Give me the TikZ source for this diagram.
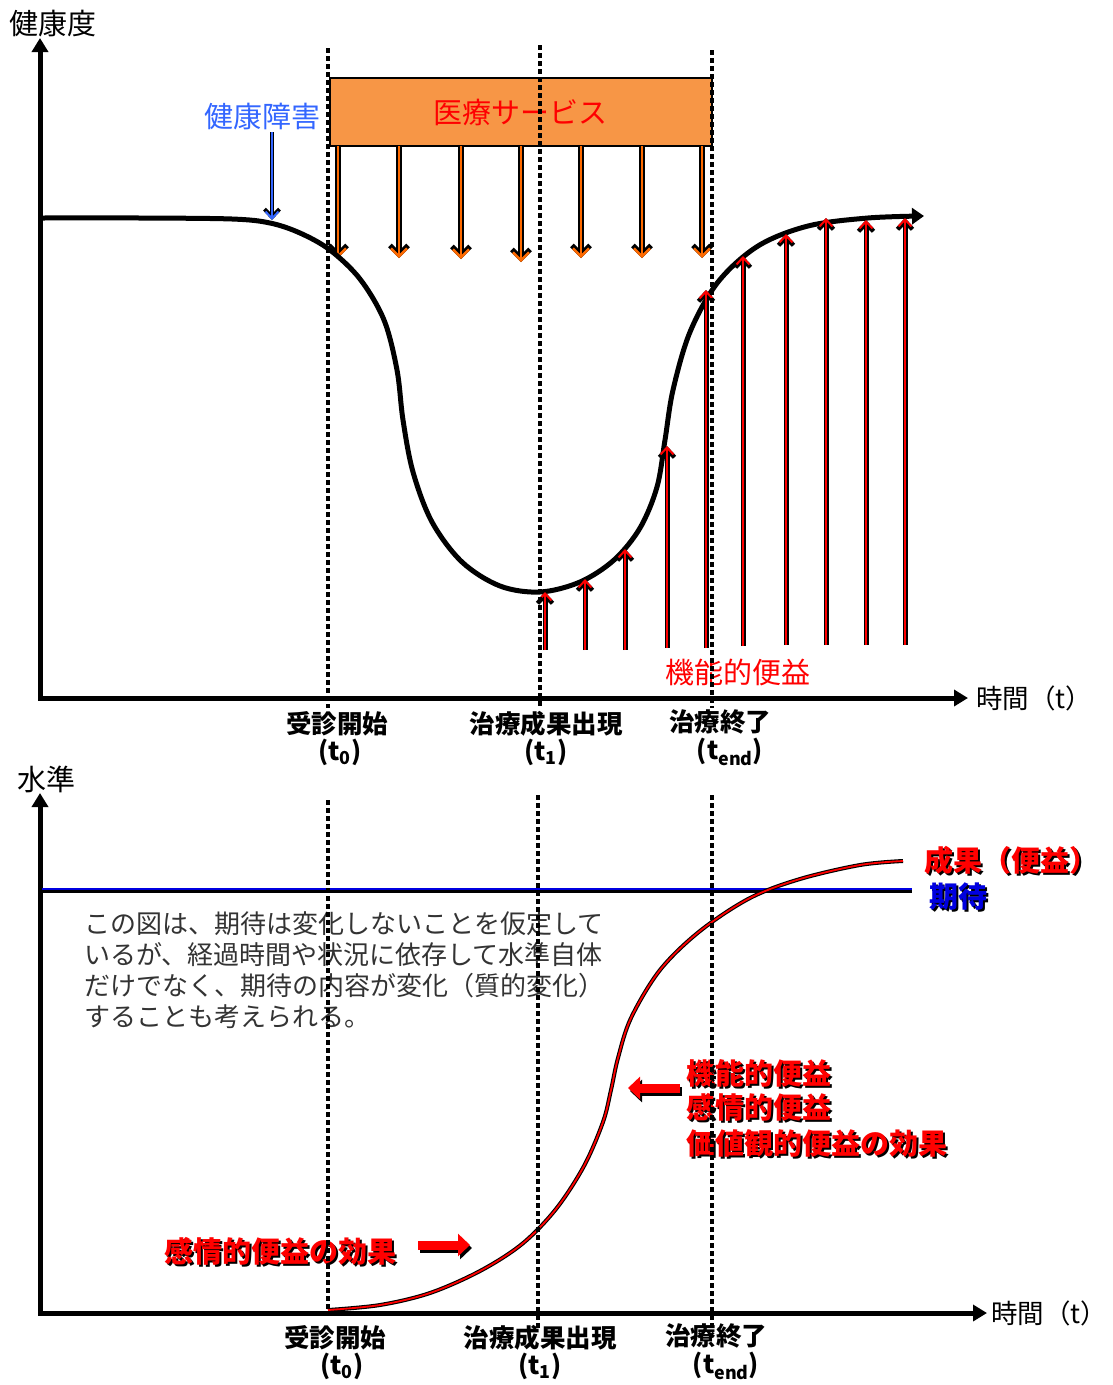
\documentclass[tikz,border=0pt]{standalone}
\usepackage{fontspec}
\setmainfont{Noto Sans CJK JP}
\usetikzlibrary{arrows.meta}

\definecolor{careorange}{HTML}{F79646}
\definecolor{arroworange}{HTML}{FF6A00}
\definecolor{hurtblue}{HTML}{3366FF}
\definecolor{levelblue}{HTML}{0000E0}

\tikzset{
  axis/.style={line width=5pt,-{Triangle[length=14pt,width=16pt]}},
  guide/.style={line width=3.4pt,dash pattern=on 5pt off 3pt},
  big/.style={font=\fontsize{29}{32}\selectfont,inner sep=0pt},
  timelabel/.style={font=\fontsize{26.5}{30}\selectfont,inner sep=0pt,anchor=west},
  event/.style={font=\fontsize{25.5}{28}\selectfont\bfseries,inner sep=0pt},
  heavy/.style={font=\fontsize{29}{32}\selectfont\bfseries,inner sep=0pt},
  note/.style={font=\fontsize{26}{31}\selectfont,text=black!80,align=left,inner sep=0pt},
  careshadow/.style={line width=5.5pt,-{Straight Barb[length=9pt,width=18pt,line width=5pt]}},
  carearrow/.style={arroworange,line width=2.4pt,-{Straight Barb[length=8pt,width=16pt,line width=2.4pt]}},
  gainshadow/.style={line width=5pt,-{Straight Barb[length=8pt,width=15pt,line width=4.5pt]}},
  gainarrow/.style={red,line width=2pt,-{Straight Barb[length=7pt,width=13pt,line width=2pt]}},
  block/.style={line width=9pt,-{Triangle[length=12pt,width=22pt]}},
}

% text with a black drop shadow
\newcommand{\shadowtext}[5]{%
  \node[#4,text=black,xshift=2pt,yshift=-2pt] (#1-s) at #2 {#5};
  \node[#4,text=#3] (#1) at #2 {#5};}

\begin{document}
\begin{tikzpicture}[x=1pt,y=-1pt]
\useasboundingbox (0,0) rectangle (1113,1385);

%% upper chart: health over time
\draw[axis] (40,699) -- (40,38);
\draw[axis] (38,698) -- (968,698);
\node[big,anchor=west] (health) at (9,24) {健康度};
\node[timelabel] (time-a) at (976,698) {時間（t）};

% medical service
\draw[fill=careorange,line width=2pt] (330,78) rectangle (712,146);
\node[big,text=red] (care) at (520,112) {医療サービス};
\foreach \x/\tip in {338/258,399/258,461/259,521/262,581/258,642/258,702/258}{
  \draw[careshadow] (\x,146) -- (\x,\tip);
  \draw[carearrow] (\x,146) -- (\x,\tip);
}

% health disorder
\node[big,text=hurtblue] (hurt) at (262,117) {健康障害};
\draw[line width=4.5pt,-{Straight Barb[length=8pt,width=15pt,line width=4pt]}] (272,132) -- (272,220);
\draw[hurtblue,line width=2pt,-{Straight Barb[length=7pt,width=13pt,line width=2pt]}] (272,132) -- (272,220);

% health curve
\draw[line width=5pt,-{Triangle[length=12pt,width=16pt]}] plot[smooth,tension=0.55] coordinates {
  (42,218) (140,218) (232,219) (270,223) (300,233) (330,250) (360,279) (384,320)
  (397,370) (403,420) (413,472) (432,522) (462,562) (500,586) (540,592) (580,582)
  (614,560) (640,528) (657,487) (665,440) (673,390) (690,332) (718,282) (758,246)
  (808,226) (868,218) (924,216)};

% functional benefit arrows
\foreach \x/\bot/\tip in {545/650/592,585/650/579,625/650/549,667/648/446,706/648/290,
                          743/646/256,786/645/234,826/645/218,866/645/220,905/645/218}{
  \draw[gainshadow] (\x,\bot) -- (\x,\tip);
  \draw[gainarrow] (\x,\bot) -- (\x,\tip);
}
\node[big,text=red,anchor=west] (gain) at (665,672) {機能的便益};

% events, upper
\node[event] (start-a) at (337,724) {受診開始};
\node[event] (start-a-t) at (340,752) {(t\textsubscript{0})};
\node[event] (result-a) at (546,724) {治療成果出現};
\node[event] (result-a-t) at (546,752) {(t\textsubscript{1})};
\node[event] (end-a) at (720,722) {治療終了};
\node[event] (end-a-t) at (730,752) {(t\textsubscript{end})};

\draw[guide] (328,48) -- (328,708);
\draw[guide] (540,45) -- (540,708);
\draw[guide] (712,50) -- (712,708);

%% lower chart: level over time
\draw[axis] (40,1314) -- (40,793);
\draw[axis] (38,1313) -- (987,1313);
\node[big,anchor=west] (level) at (17,779) {水準};
\node[timelabel] (time-b) at (991,1313) {時間（t）};

% expectation
\draw[black,line width=4pt] (42,891) -- (912,891);
\draw[levelblue,line width=2.6pt] (42,889) -- (912,889);
\shadowtext{outcome}{(924,860)}{red}{heavy,anchor=west}{成果（便益）}
\shadowtext{expect}{(929,897)}{levelblue}{heavy,anchor=west}{期待}

\node[note,anchor=north west] (remark) at (84,911) {この図は、期待は変化しないことを仮定して\\
いるが、経過時間や状況に依存して水準自体\\
だけでなく、期待の内容が変化（質的変化）\\
することも考えられる。};

% outcome curve
\draw[line width=4pt] plot[smooth,tension=0.55] coordinates {
  (328,1310) (380,1305) (430,1293) (480,1271) (522,1244) (556,1209) (584,1166)
  (603,1122) (611,1090) (618,1058) (631,1018) (660,970) (700,931) (750,898)
  (800,879) (860,865) (903,861)};
\draw[red,line width=1.8pt] plot[smooth,tension=0.55] coordinates {
  (328,1310) (380,1305) (430,1293) (480,1271) (522,1244) (556,1209) (584,1166)
  (603,1122) (611,1090) (618,1058) (631,1018) (660,970) (700,931) (750,898)
  (800,879) (860,865) (903,861)};

% benefit effects
\draw[block,black] (682,1091) -- (630,1091);
\draw[block,red] (680,1088) -- (628,1088);
\shadowtext{gain-f}{(686,1073)}{red}{heavy,anchor=west}{機能的便益}
\shadowtext{gain-e}{(686,1107)}{red}{heavy,anchor=west}{感情的便益}
\shadowtext{gain-v}{(686,1143)}{red}{heavy,anchor=west}{価値観的便益の効果}

\shadowtext{emotion}{(164,1251)}{red}{heavy,anchor=west}{感情的便益の効果}
\draw[block,black] (420,1248) -- (472,1248);
\draw[block,red] (418,1245) -- (470,1245);

% events, lower
\node[event] (start-b) at (335,1338) {受診開始};
\node[event] (start-b-t) at (342,1366) {(t\textsubscript{0})};
\node[event] (result-b) at (540,1338) {治療成果出現};
\node[event] (result-b-t) at (540,1366) {(t\textsubscript{1})};
\node[event] (end-b) at (716,1336) {治療終了};
\node[event] (end-b-t) at (726,1366) {(t\textsubscript{end})};

\draw[guide] (328,800) -- (328,1313);
\draw[guide] (538,795) -- (538,1330);
\draw[guide] (712,795) -- (712,1330);
\end{tikzpicture}
\end{document}
